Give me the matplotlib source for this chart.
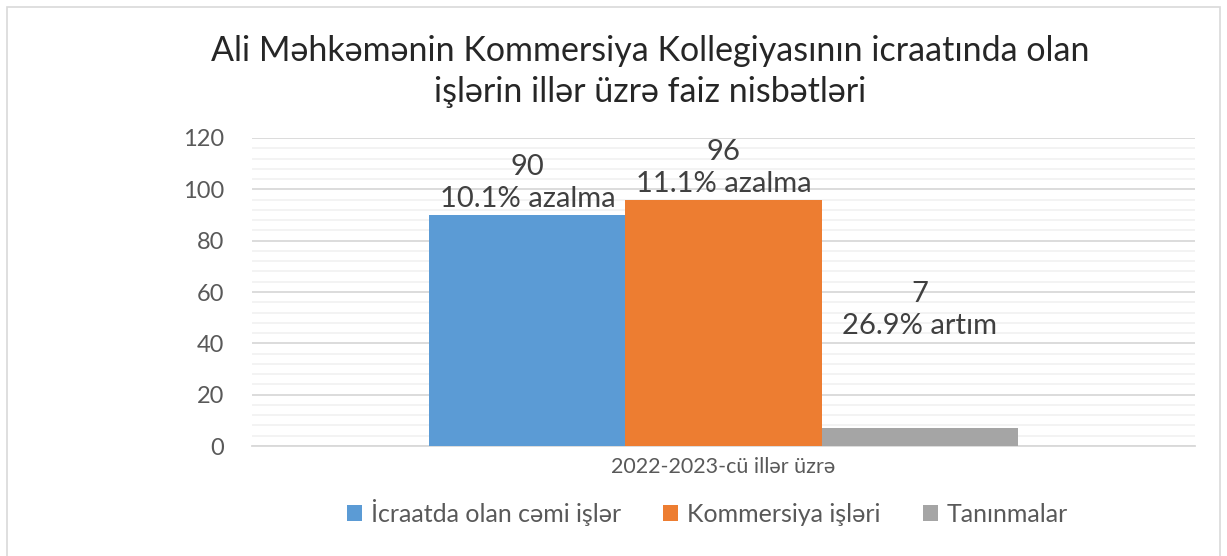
import matplotlib
matplotlib.use("Agg")
import matplotlib.pyplot as plt
from matplotlib.patches import Rectangle
from matplotlib.ticker import MultipleLocator

plt.rcParams["font.family"] = ["Lato", "DejaVu Sans"]

# Data
category = "2022-2023-cü illər üzrə"
series_names = ["İcraatda olan cəmi işlər", "Kommersiya işləri", "Tanınmalar"]
values = [90, 96, 7]
changes = ["10.1% azalma", "11.1% azalma", "26.9% artım"]
colors = ["#5B9BD5", "#ED7D31", "#A5A5A5"]

fig = plt.figure(figsize=(12.27, 5.56), dpi=100)
ax = fig.add_axes([0.2054, 0.1978, 0.7685, 0.554])

bar_w = 0.208
offsets = [-bar_w, 0, bar_w]
bars = []
for name, v, c, off in zip(series_names, values, colors, offsets):
    b = ax.bar(off, v, width=bar_w, color=c, label=name, zorder=3)
    bars.append(b[0])

# data labels (manually placed like in the original)
label_pad = [2, 2, 64]  # points above bar top
for b, v, ch, pad in zip(bars, values, changes, label_pad):
    ax.annotate(f"{v}\n{ch}", (b.get_x() + b.get_width() / 2, v),
                xytext=(0, pad), textcoords="offset points",
                ha="center", va="bottom", fontsize=21, color="#404040",
                linespacing=1.3)

ax.set_xlim(-0.5, 0.5)
ax.set_ylim(0, 120)
ax.yaxis.set_major_locator(MultipleLocator(20))
ax.yaxis.set_minor_locator(MultipleLocator(4))
ax.grid(axis="y", which="major", color="#D9D9D9", linewidth=1.3, zorder=0)
ax.grid(axis="y", which="minor", color="#F2F2F2", linewidth=1.3, zorder=0)
ax.set_xticks([])
for s in ["left", "right", "top"]:
    ax.spines[s].set_visible(False)
ax.spines["bottom"].set_color("#D9D9D9")
ax.spines["bottom"].set_linewidth(1.3)
ax.tick_params(axis="y", which="both", length=0, labelsize=17, labelcolor="#595959", pad=20)

ax.text(0.5, -0.068, category, transform=ax.transAxes, ha="center", va="center",
        fontsize=15.5, color="#595959")

fig.text(0.53, 0.872, "Ali Məhkəmənin Kommersiya Kollegiyasının icraatında olan\nişlərin illər üzrə faiz nisbətləri",
         ha="center", va="center", fontsize=24.5, color="#262626", linespacing=1.35)

ax.legend(loc="center", bbox_to_anchor=(0.483, -0.215), ncol=3, frameon=False,
          fontsize=18, labelcolor="#595959", handlelength=0.6, handleheight=0.6,
          handletextpad=0.35, columnspacing=1.7)

fig.add_artist(Rectangle((0.006, -0.01), 0.988, 0.997, transform=fig.transFigure,
                         fill=False, edgecolor="#D9D9D9", linewidth=1.2))

plt.savefig("out.png", dpi=100)
plt.close()
